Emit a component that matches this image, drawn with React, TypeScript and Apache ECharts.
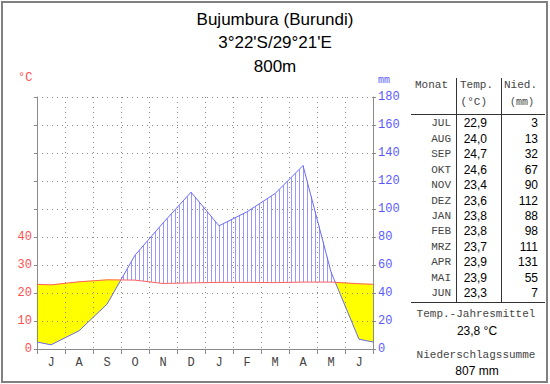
import React, { useEffect, useRef } from "react";
import * as echarts from "echarts";

const titleLines = ["Bujumbura (Burundi)", "3°22'S/29°21'E", "800m"];
const monthLetters = ["J", "A", "S", "O", "N", "D", "J", "F", "M", "A", "M", "J"];
const monthNames = ["JUL", "AUG", "SEP", "OKT", "NOV", "DEZ", "JAN", "FEB", "MRZ", "APR", "MAI", "JUN"];
const temperature = [22.9, 24.0, 24.7, 24.6, 23.4, 23.6, 23.8, 23.8, 23.7, 23.9, 23.9, 23.3];
const precipitation = [3, 13, 32, 67, 90, 112, 88, 98, 111, 131, 55, 7];
const tempLabelMax = 40;
const annualMeanText = "23,8 °C";
const annualSumText = "807 mm";

const MONO = "'Courier New', 'Liberation Mono', monospace";
const SANS = "Arial, 'Liberation Sans', sans-serif";
const HATCH = "#9898ff";

const fmt = (v: number) => v.toFixed(1).replace(".", ",");

export default function App() {
  const ref = useRef<HTMLDivElement>(null);
  useEffect(() => {
    if (!ref.current) return;
    const chart = echarts.init(ref.current, undefined, { renderer: "svg" });

    // wrap-around edge values (diagram convention: mean of first and last month)
    const edgeT = (temperature[0] + temperature[11]) / 2;
    const edgeP = (precipitation[0] + precipitation[11]) / 2;
    const tPts = [[0, edgeT], ...temperature.map((t, i) => [i + 0.5, t]), [12, edgeT]];
    const pPts = [[0, edgeP], ...precipitation.map((p, i) => [i + 0.5, p]), [12, edgeP]];
    const segs: number[][] = [];
    for (let k = 0; k < tPts.length - 1; k++) {
      segs.push([tPts[k][0], tPts[k][1], pPts[k][1], tPts[k + 1][0], tPts[k + 1][1], pPts[k + 1][1]]);
    }

    const renderItem = (params: any, api: any) => {
      const x0 = api.value(0), t0 = api.value(1), p0 = api.value(2) / 2;
      const x1 = api.value(3), t1 = api.value(4), p1 = api.value(5) / 2;
      const children: any[] = [];
      const left = api.coord([0, 0])[0];
      const addPiece = (xa: number, ta: number, pa: number, xb: number, tb: number, pb: number) => {
        const AT = api.coord([xa, ta]), AP = api.coord([xa, pa]);
        const BT = api.coord([xb, tb]), BP = api.coord([xb, pb]);
        const humid = pa + pb > ta + tb;
        if (!humid) {
          children.push({
            type: "polygon",
            shape: { points: [AT, BT, BP, AP] },
            style: { fill: "#ffff00", stroke: "#ffff00", lineWidth: 0.6 },
          });
        } else {
          const step = 4;
          let k = Math.ceil((AT[0] - left - 2) / step);
          for (;; k++) {
            const x = left + 2 + k * step;
            if (x >= BT[0]) break;
            if (x < AT[0]) continue;
            const f = (x - AT[0]) / (BT[0] - AT[0]);
            const yT = AT[1] + f * (BT[1] - AT[1]);
            const yP = AP[1] + f * (BP[1] - AP[1]);
            const xx = Math.round(x) + 0.5;
            children.push({
              type: "line",
              shape: { x1: xx, y1: yT, x2: xx, y2: yP },
              style: { stroke: HATCH, lineWidth: 1 },
            });
          }
        }
      };
      const d0 = p0 - t0, d1 = p1 - t1;
      if (d0 * d1 < 0) {
        const f = d0 / (d0 - d1);
        const xc = x0 + f * (x1 - x0);
        const tc = t0 + f * (t1 - t0);
        addPiece(x0, t0, p0, xc, tc, tc);
        addPiece(xc, tc, tc, x1, t1, p1);
      } else {
        addPiece(x0, t0, p0, x1, t1, p1);
      }
      return { type: "group", children };
    };

    const graphics: any[] = [];
    const txt = (text: string, x: number, y: number, fill: string, font: string, align = "left") =>
      graphics.push({
        type: "text",
        x,
        y,
        z: 100,
        style: { text, fill, font, textAlign: align, textVerticalAlign: "middle" },
      });
    const ln = (x1: number, y1: number, x2: number, y2: number, stroke = "#333", w = 1) =>
      graphics.push({ type: "line", z: 100, shape: { x1, y1, x2, y2 }, style: { stroke, lineWidth: w } });

    titleLines.forEach((t, i) => txt(t, 275, 19 + i * 23.5, "#000", `17px ${SANS}`, "center"));
    txt("°C", 18, 78, "#ff5050", `12px ${MONO}`);
    txt("mm", 378, 80, "#5a5aff", `10px ${MONO}`);

    // table
    const M = `11px ${MONO}`;
    const S = `12px ${SANS}`;
    const tc = "#444";
    txt("Monat", 415, 85, tc, M);
    txt("Temp.", 460, 85, tc, M);
    txt("(°C)", 487, 102, tc, M, "right");
    txt("Nied.", 504, 85, tc, M);
    txt("(mm)", 522, 102, tc, `10px ${MONO}`, "center");
    ln(411, 114.5, 545, 114.5);
    ln(456.5, 78, 456.5, 302);
    ln(501.5, 78, 501.5, 302);
    monthNames.forEach((m, i) => {
      const y = 123.3 + i * 15.45;
      txt(m, 451, y, tc, M, "right");
      txt(fmt(temperature[i]), 487, y, "#000", S, "right");
      txt(String(precipitation[i]), 538, y, "#000", S, "right");
    });
    ln(411, 302.5, 545, 302.5);
    txt("Temp.-Jahresmittel", 476, 314, tc, M, "center");
    txt(annualMeanText, 477, 331, "#000", S, "center");
    txt("Niederschlagssumme", 476, 355, tc, M, "center");
    txt(annualSumText, 477, 371, "#000", S, "center");
    graphics.push({
      type: "rect",
      z: 100,
      shape: { x: 2, y: 2, width: 545, height: 380 },
      style: { fill: "none", stroke: "#808080", lineWidth: 2 },
    });

    const gridGray = "#8a8a8a";
    chart.setOption({
      animation: false,
      backgroundColor: "#fff",
      grid: { left: 37, right: 177, top: 97, bottom: 35, containLabel: false },
      xAxis: [
        {
          type: "category",
          data: monthLetters,
          boundaryGap: true,
          z: 3,
          axisLine: { show: true, lineStyle: { color: gridGray, width: 1 } },
          axisTick: { show: true, length: 5, lineStyle: { color: gridGray } },
          axisLabel: { color: "#444", fontFamily: MONO, fontSize: 12, margin: 8 },
          splitLine: { show: true, lineStyle: { color: gridGray, type: [1, 4] } },
        },
        { type: "value", min: 0, max: 12, show: false },
      ],
      yAxis: [
        {
          type: "value",
          min: 0,
          max: 90,
          interval: 10,
          z: 3,
          axisLine: { show: true, lineStyle: { color: gridGray } },
          axisTick: { show: true, length: 3, lineStyle: { color: gridGray } },
          axisLabel: {
            color: "#ff5050",
            fontFamily: MONO,
            fontSize: 12,
            margin: 5,
            formatter: (v: number) => (v <= tempLabelMax ? String(v) : ""),
          },
          splitLine: { show: true, lineStyle: { color: gridGray, type: [1, 4] } },
        },
        {
          type: "value",
          min: 0,
          max: 180,
          interval: 20,
          position: "right",
          z: 3,
          axisLine: { show: true, lineStyle: { color: gridGray } },
          axisTick: { show: true, length: 3, lineStyle: { color: gridGray } },
          axisLabel: { color: "#5a5aff", fontFamily: MONO, fontSize: 12, margin: 5 },
          splitLine: { show: false },
        },
      ],
      series: [
        {
          type: "custom",
          xAxisIndex: 1,
          yAxisIndex: 0,
          z: 1,
          itemStyle: { color: HATCH },
          renderItem,
          data: segs,
          silent: true,
        },
        {
          type: "line",
          xAxisIndex: 1,
          yAxisIndex: 1,
          z: 5,
          data: pPts,
          showSymbol: false,
          lineStyle: { color: "#6a6aff", width: 1 },
        },
        {
          type: "line",
          xAxisIndex: 1,
          yAxisIndex: 0,
          z: 6,
          data: tPts,
          showSymbol: false,
          lineStyle: { color: "#ff6060", width: 1 },
        },
      ],
      graphic: graphics,
    });
    return () => chart.dispose();
  }, []);
  return (
    <div
      ref={ref}
      style={{ position: "fixed", left: 0, top: 0, width: 550, height: 384, background: "#fff" }}
    />
  );
}
